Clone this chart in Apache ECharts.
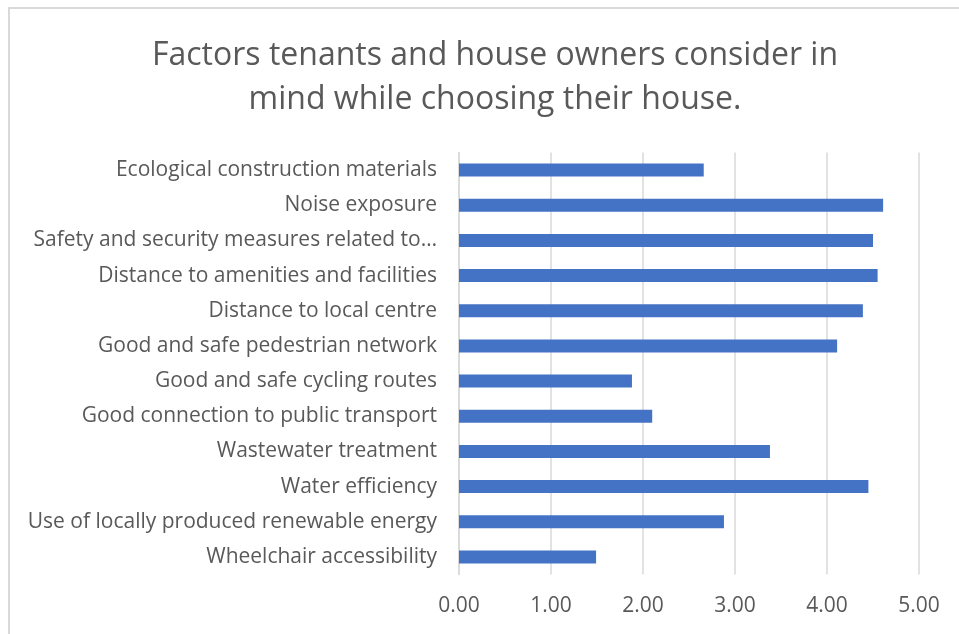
<!DOCTYPE html>
<html>
<head>
<meta charset="utf-8">
<script src="https://cdn.jsdelivr.net/npm/echarts@6/dist/echarts.min.js"></script>
<style>
  html, body { margin: 0; padding: 0; background: #ffffff; overflow: hidden; }
  #chart { width: 959px; height: 634px; }
</style>
</head>
<body>
<div id="chart"></div>
<script>
// 类别（从上到下）
const factors = [
  'Ecological construction materials',
  'Noise exposure',
  'Safety and security measures related to…',
  'Distance to amenities and facilities',
  'Distance to local centre',
  'Good and safe pedestrian network',
  'Good and safe cycling routes',
  'Good connection to public transport',
  'Wastewater treatment',
  'Water efficiency',
  'Use of locally produced renewable energy',
  'Wheelchair accessibility'
]

// 平均分
const scores = [2.66, 4.61, 4.50, 4.55, 4.39, 4.11, 1.88, 2.10, 3.38, 4.45, 2.88, 1.49]

const titleLines = [
  'Factors tenants and house owners consider in',
  'mind while choosing their house.'
]

const chart = echarts.init(document.getElementById('chart'), null, { renderer: 'canvas' })

const textColor = '#595959'
const lineColor = '#d9d9d9'
const font = '"Open Sans", "Noto Sans", sans-serif'

const option = {
  backgroundColor: '#ffffff',
  animation: false,
  textStyle: { fontFamily: font },
  graphic: [
    {
      type: 'rect',
      shape: { x: 9, y: 8, width: 980, height: 660 },
      style: { fill: 'none', stroke: lineColor, lineWidth: 2 },
      silent: true
    }
  ],
  title: {
    text: titleLines.join('\n'),
    left: 490,
    top: 29,
    textAlign: 'center',
    textStyle: {
      color: textColor,
      fontSize: 32,
      fontWeight: 'normal',
      lineHeight: 44,
      fontFamily: font
    }
  },
  grid: { left: 459, right: 40, top: 152.5, height: 422, containLabel: false },
  xAxis: {
    type: 'value',
    min: 0,
    max: 5,
    interval: 1,
    axisLine: { show: false },
    axisTick: { show: false },
    axisLabel: {
      color: textColor,
      fontSize: 21,
      margin: 21,
      formatter: v => v.toFixed(2)
    },
    splitLine: { lineStyle: { color: lineColor, width: 1.5 } }
  },
  yAxis: {
    type: 'category',
    inverse: true,
    data: factors,
    axisLine: { lineStyle: { color: lineColor, width: 1.5 } },
    axisTick: { show: false },
    axisLabel: { color: textColor, fontSize: 21, margin: 22, padding: [5, 0, 0, 0] }
  },
  series: [
    {
      type: 'bar',
      data: scores,
      barWidth: 13,
      itemStyle: { color: '#4472c4' }
    }
  ]
}

chart.setOption(option)
</script>
</body>
</html>
